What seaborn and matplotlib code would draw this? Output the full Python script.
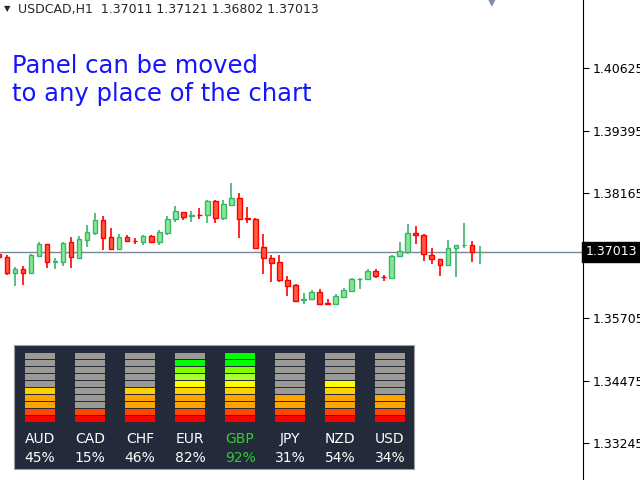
import numpy as np
import pandas as pd
import matplotlib
matplotlib.use("Agg")
import matplotlib.pyplot as plt
import seaborn as sns
from matplotlib.patches import Rectangle

sns.set_style("white")
plt.rcParams['font.family'] = ['DejaVu Sans']

opens = [1.36974,1.36909,1.36606,1.36673,1.36606,1.36934,1.37165,1.36816,1.36822,1.37204,
         1.36895,1.37249,1.37381,1.37637,1.37302,1.37078,1.37302,1.37239,1.37216,1.37322,
         1.37216,1.37393,1.37657,1.37794,1.37721,1.37741,1.37735,1.38011,1.37688,1.37944,
         1.38070,1.37676,1.37657,1.37105,1.36889,1.36810,1.36456,1.36358,1.36074,1.36082,
         1.36220,1.36003,1.35990,1.36133,1.36251,1.36476,1.36476,1.36645,1.36521,1.36507,
         1.36928,1.37019,1.37381,1.37342,1.36948,1.36869,1.36763,1.37098,1.37145,1.37145,1.37013]
highs = [1.36993,1.36954,1.36718,1.36737,1.36974,1.37210,1.37170,1.36895,1.37210,1.37308,
         1.37328,1.37544,1.37781,1.37721,1.37485,1.37367,1.37348,1.37289,1.37348,1.37348,
         1.37446,1.37721,1.37918,1.37800,1.37820,1.37879,1.38036,1.38036,1.38036,1.38371,
         1.38174,1.37899,1.37682,1.37367,1.36954,1.36954,1.36541,1.36383,1.36206,1.36265,
         1.36285,1.36088,1.36186,1.36305,1.36501,1.36501,1.36678,1.36678,1.36560,1.36954,
         1.37210,1.37564,1.37525,1.37367,1.37092,1.36875,1.37249,1.37151,1.37584,1.37229,1.37131]
lows = [1.36895,1.36560,1.36344,1.36364,1.36580,1.36915,1.36698,1.36678,1.36737,1.36698,
        1.36875,1.37111,1.37348,1.37052,1.37052,1.37072,1.37210,1.37170,1.37151,1.37210,
        1.37151,1.37348,1.37603,1.37643,1.37603,1.37662,1.37584,1.37584,1.37643,1.37938,
        1.37289,1.37584,1.37092,1.36580,1.36423,1.36423,1.36147,1.36029,1.35990,1.36068,
        1.35980,1.35985,1.35985,1.36127,1.36246,1.36285,1.36462,1.36501,1.36442,1.36501,
        1.36920,1.36974,1.37170,1.36836,1.36777,1.36541,1.36757,1.36521,1.37092,1.36816,1.36777]
closes = [1.36915,1.36606,1.36673,1.36594,1.36948,1.37165,1.36822,1.36830,1.37184,1.36921,
          1.37263,1.37401,1.37637,1.37294,1.37078,1.37302,1.37224,1.37229,1.37322,1.37216,
          1.37401,1.37657,1.37814,1.37708,1.37735,1.37735,1.38011,1.37688,1.37952,1.38070,
          1.37668,1.37668,1.37098,1.36901,1.36802,1.36456,1.36350,1.36055,1.36082,1.36220,
          1.35990,1.35995,1.36147,1.36265,1.36482,1.36482,1.36639,1.36535,1.36515,1.36928,
          1.37033,1.37381,1.37342,1.36974,1.36869,1.36763,1.37098,1.37145,1.37151,1.37007,1.37013]

price_ticks = [1.40625, 1.39395, 1.38165, 1.35705, 1.34475, 1.33245]
last_price = 1.37013
title_text = "USDCAD,H1  1.37011 1.37121 1.36802 1.37013"

currencies = ["AUD", "CAD", "CHF", "EUR", "GBP", "JPY", "NZD", "USD"]
strength = [45, 15, 46, 82, 92, 31, 54, 34]
lit_levels = [5, 2, 5, 9, 10, 4, 6, 4]
level_colors = ['#ff0000', '#ff4500', '#ffa500', '#ffa500', '#ffd000',
                '#ffff00', '#adff2f', '#7fff00', '#00ff00', '#00ff00']

df = pd.DataFrame({"o": opens, "h": highs, "l": lows, "c": closes})
df["i"] = np.arange(len(df))
df["up"] = df["c"] >= df["o"]

fig = plt.figure(figsize=(6.4, 4.8), dpi=100)
ax = fig.add_axes([0, 0, 583/640, 1])
ax.set_xlim(0.125, 72.875)
ax.set_ylim(1.32526, 1.41972)

ax.axhline(last_price, color='#778899', lw=1, zorder=1)
for _, r in df.iterrows():
    edge = '#3cb371' if r.up else '#ff0000'
    face = '#86e98a' if r.up else '#ff5a3c'
    ax.vlines(r.i, r.l, r.h, color=edge, lw=1.2, zorder=2)
    lo, hi = min(r.o, r.c), max(r.o, r.c)
    ax.add_patch(Rectangle((r.i - 0.28, lo), 0.56, max(hi - lo, 0.00004),
                           facecolor=face, edgecolor=edge, lw=1, zorder=3))

ax.yaxis.tick_right()
ax.set_yticks(price_ticks)
ax.set_yticklabels([f"{p:.5f}" for p in price_ticks], fontsize=9)
ax.tick_params(axis='y', length=4, direction='out', pad=3, right=True, colors='black')
ax.set_xticks([])
for s in ['top', 'left', 'bottom']:
    ax.spines[s].set_visible(False)
ax.spines['right'].set_color('black')
ax.text(1.005, last_price, f"{last_price:.5f}", transform=ax.get_yaxis_transform(),
        va='center', ha='left', color='white', fontsize=9,
        bbox=dict(boxstyle='square,pad=0.3', fc='black', ec='black'), clip_on=False)

fig.text(4/640, 1 - 9/480, "\u25BC", fontsize=6, va='center', ha='left')
fig.text(18/640, 1 - 9/480, title_text, fontsize=9, va='center', ha='left')
fig.text(492/640, 1 - 1/480, "\u25BC", fontsize=11, color='#8090a0', va='center', ha='center')
fig.text(12/640, 1 - 80/480, "Panel can be moved\nto any place of the chart",
         fontsize=17.5, color='#1414ff', va='center', ha='left', linespacing=1.25)

pax = fig.add_axes([14/640, 11/480, 400/640, 124/480])
pax.set_xlim(0, 400)
pax.set_ylim(124, 0)
pax.set_facecolor('#232b3a')
for s in pax.spines.values():
    s.set_color('#a0a0a0')
pax.set_xticks([])
pax.set_yticks([])
for ci, cur in enumerate(currencies):
    x0 = 11 + 50 * ci
    for k in range(10):
        col = level_colors[k] if k < lit_levels[ci] else '#9c9a96'
        pax.add_patch(Rectangle((x0, 76.7 - 7 * k - 6), 30, 6, facecolor=col, edgecolor='none'))
    tc = '#33cc33' if cur == "GBP" else 'white'
    pax.text(x0 + 15, 94, cur, color=tc, ha='center', va='center', fontsize=10)
    pax.text(x0 + 15, 113, f"{strength[ci]}%", color=tc, ha='center', va='center', fontsize=10)

fig.savefig("out.png", dpi=100)
